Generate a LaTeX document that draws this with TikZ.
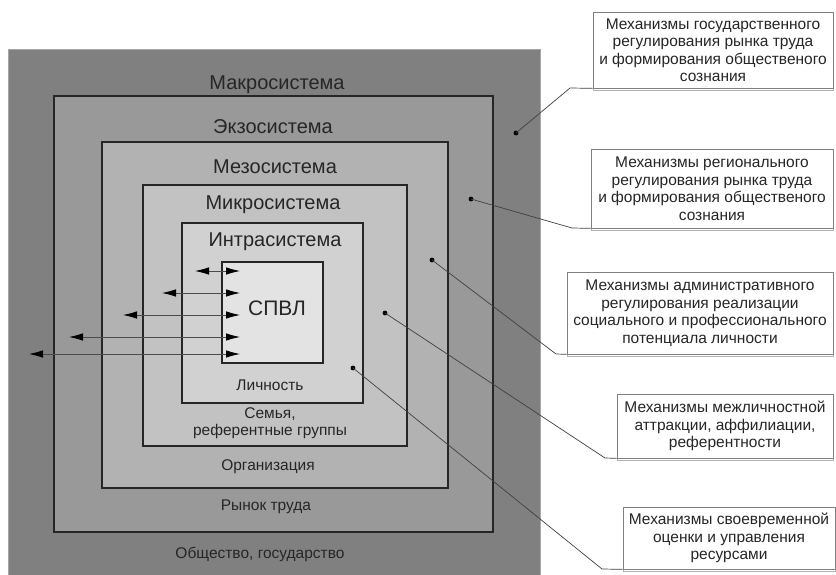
\documentclass[tikz,border=0pt]{standalone}
\usepackage{fontspec}
\setmainfont{Liberation Sans}
\usetikzlibrary{arrows.meta,positioning}
\definecolor{macrocol}{gray}{0.50}
\definecolor{exocol}{gray}{0.60}
\definecolor{mesocol}{gray}{0.70}
\definecolor{microcol}{gray}{0.76}
\definecolor{intracol}{gray}{0.82}
\definecolor{spvlcol}{gray}{0.89}
\tikzset{>={Latex[length=14pt,width=7.5pt,color=black]}}
\tikzset{dot/.style={inner sep=1.7pt,circle,fill=black}}
\tikzset{sysbox/.style={draw=black!85,line width=1.3pt,inner sep=0pt}}
\tikzset{biglabel/.style={font=\fontsize{20}{22}\selectfont,text=black!85}}
\tikzset{smalllabel/.style={font=\fontsize{15.5}{17.5}\selectfont,align=center,text=black!85}}
\tikzset{mechbox/.style={draw=black!50,fill=white,line width=0.7pt,align=center,inner sep=0pt,
    font=\fontsize{15.5}{17.5}\selectfont,text=black!85,
    preaction={draw=black!30,line width=0.8pt,transform canvas={yshift=-2.5pt}}}}
\tikzset{lead/.style={draw=black!75,line width=0.7pt}}
\tikzset{link/.style={<->,draw=black!70,line width=0.8pt}}

\begin{document}
\begin{tikzpicture}[x=1pt,y=-1pt]
    \useasboundingbox (0,0) rectangle (836,575);

    \node[sysbox,draw=black!35,line width=0.8pt,fill=macrocol,minimum width=532pt,minimum height=530pt] (macro) at (274,314) {};
    \node[sysbox,fill=exocol,minimum width=439pt,minimum height=436pt] (exo) at (273.5,314) {};
    \node[sysbox,fill=mesocol,minimum width=346pt,minimum height=346pt] (meso) at (275,315) {};
    \node[sysbox,fill=microcol,minimum width=264pt,minimum height=261pt] (micro) at (275,315.5) {};
    \node[sysbox,fill=intracol,minimum width=181pt,minimum height=180pt] (intra) at (272.5,313) {};
    \node[sysbox,fill=spvlcol,minimum width=101pt,minimum height=101pt] (spvl) at (272.5,312.5) {};

    \node[biglabel] (macrotxt) at (277,85) {Макросистема};
    \node[biglabel] (exotxt) at (273,127) {Экзосистема};
    \node[biglabel] (mesotxt) at (275,167) {Мезосистема};
    \node[biglabel] (microtxt) at (273,205) {Микросистема};
    \node[biglabel] (intratxt) at (275,242) {Интрасистема};
    \node[font=\fontsize{21}{23}\selectfont,text=black!85] (spvltxt) at (277,308) {СПВЛ};

    \node[smalllabel] (person) at (270,385) {Личность};
    \node[smalllabel] (family) at (270,423) {Семья,\\референтные группы};
    \node[smalllabel] (org) at (268,467) {Организация};
    \node[smalllabel] (market) at (266,507) {Рынок труда};
    \node[smalllabel] (society) at (260,554) {Общество, государство};

    \foreach \i/\lx/\ly in {1/195/271,2/162/293,3/123/315,4/69/337,5/29/354} {
        \coordinate (l\i) at (\lx,\ly);
        \coordinate (r\i) at (240,\ly);
        \draw[link] (l\i) -- (r\i);
    }

    \node[mechbox,minimum width=240pt,minimum height=76pt] (mech1) at (713,50)
        {Механизмы государственного\\регулирования рынка труда\\и формирования общественого\\сознания};
    \node[mechbox,minimum width=242pt,minimum height=79pt] (mech2) at (712,188.5)
        {Механизмы регионального\\регулирования рынка труда\\и формирования общественого\\сознания};
    \node[mechbox,minimum width=266pt,minimum height=82pt] (mech3) at (700,313)
        {Механизмы административного\\регулирования реализации\\социального и профессионального\\потенциала личности};
    \node[mechbox,minimum width=216pt,minimum height=64pt] (mech4) at (725,426)
        {Механизмы межличностной\\аттракции, аффилиации,\\референтности};
    \node[mechbox,minimum width=212pt,minimum height=62pt] (mech5) at (729,538)
        {Механизмы своевременной\\оценки и управления\\ресурсами};

    \node[dot] (d1) at (516,133) {};
    \node[dot] (d2) at (471,199) {};
    \node[dot] (d3) at (432,260) {};
    \node[dot] (d4) at (385,313) {};
    \node[dot] (d5) at (353,368) {};

    \coordinate (k1) at (570,88);
    \coordinate (k2) at (572,228);
    \coordinate (k3) at (556,354);
    \coordinate (k4) at (605,458);
    \coordinate (k5) at (602,569);

    \draw[lead] (d1.center) -- (k1) -- (mech1.south west);
    \draw[lead] (d2.center) -- (k2) -- (mech2.south west);
    \draw[lead] (d3.center) -- (k3) -- (mech3.south west);
    \draw[lead] (d4.center) -- (k4) -- (mech4.south west);
    \draw[lead] (d5.center) -- (k5) -- (mech5.south west);
\end{tikzpicture}
\end{document}
